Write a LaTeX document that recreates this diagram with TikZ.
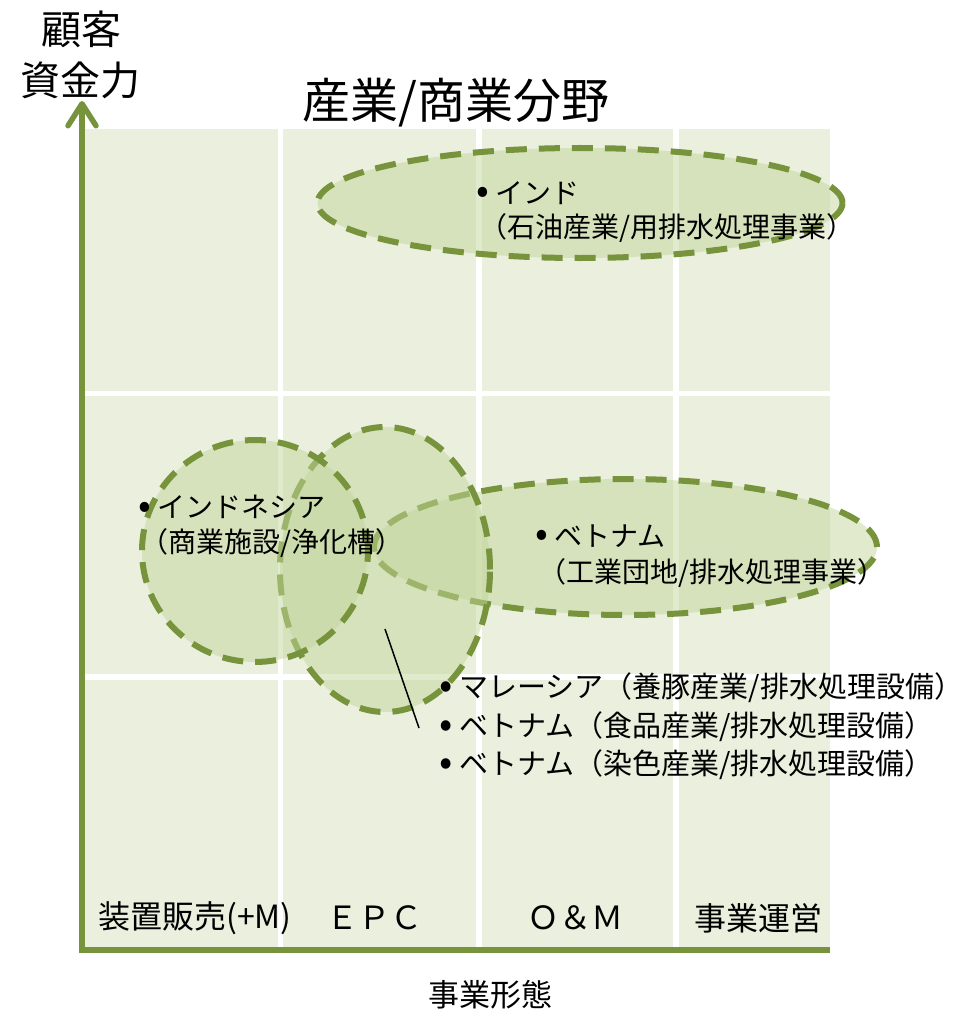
\documentclass[tikz,border=0pt]{standalone}
\usepackage{fontspec}
\setmainfont{Noto Sans CJK JP}
\usetikzlibrary{arrows.meta,shapes.geometric}
\definecolor{axisgreen}{RGB}{119,147,60}
\definecolor{gridbg}{RGB}{234,239,222}
\definecolor{ellfill}{RGB}{195,214,155}
\newcommand\bul{\makebox[0.9em][c]{\raisebox{-0.02em}{\scalebox{1.35}{•}}}}
\begin{document}
\begin{tikzpicture}[x=1pt,y=-1pt,
  txt/.style={inner sep=0pt, text=black},
  body/.style={txt, font=\fontsize{28}{30}\selectfont},
  listtxt/.style={txt, font=\fontsize{29}{31}\selectfont},
  axlbl/.style={txt, font=\fontsize{40}{44}\selectfont},
  collbl/.style={txt, font=\fontsize{32}{34}\selectfont},
  gridline/.style={white, line width=5.5pt},
  axisline/.style={axisgreen, line width=5.5pt, line join=miter},
  region/.style={ellipse, draw=axisgreen, line width=6pt, dash pattern=on 21pt off 12pt,
     fill=ellfill, fill opacity=0.5, draw opacity=1, inner sep=0pt},
  pointer/.style={black, line width=1.5pt}
]
\useasboundingbox (0,0) rectangle (959,1011);
% grid background
\fill[gridbg] (85,129) rectangle (830,948);
\draw[gridline] (280.5,129) -- (280.5,948);
\draw[gridline] (479,129) -- (479,948);
\draw[gridline] (676,129) -- (676,948);
\draw[gridline] (85,393.5) -- (830,393.5);
\draw[gridline] (85,677) -- (830,677);
% axes
\coordinate (ytop) at (82,101);
\coordinate (origin) at (82,950);
\coordinate (xend) at (830,950);
\draw[axisline, {Straight Barb[length=22pt,width=28pt,round]}-] (ytop) -- (origin) -- (xend);
% regions
\node[region, minimum width=525pt, minimum height=110pt] (india) at (580,203) {};
\node[region, minimum width=503pt, minimum height=136pt] (vietnam) at (625.5,547) {};
\node[region, minimum width=210pt, minimum height=285pt] (epc) at (385,569.5) {};
\node[region, minimum width=226pt, minimum height=222pt] (indonesia) at (255,551) {};
% pointer line
\coordinate (pA) at (385,629);
\coordinate (pB) at (419,728);
\draw[pointer] (pA) -- (pB);
% axis labels
\node[axlbl] (kokyaku) at (81.5,29) {顧客};
\node[axlbl] (shikin) at (80,80) {資金力};
\node[txt, font=\fontsize{48}{50}\selectfont] (title) at (456,103) {産業/商業分野};
\node[txt, font=\fontsize{31}{33}\selectfont] (keitai) at (490,995) {事業形態};
% column labels
\node[collbl] (c1) at (195,918) {装置販売(+M)};
\node[collbl] (c2) at (374,918) {ＥＰＣ};
\node[collbl] (c3) at (575,918) {Ｏ＆Ｍ};
\node[collbl] (c4) at (758,918) {事業運営};
% region texts
\node[body, anchor=west] (t1a) at (470,193) {\bul インド};
\node[body] (t1b) at (667,228) {（石油産業/用排水処理事業）};
\node[body, anchor=west] (t2a) at (132,507) {\bul インドネシア};
\node[body] (t2b) at (272,543) {（商業施設/浄化槽）};
\node[body, anchor=west] (t3a) at (529,536) {\bul ベトナム};
\node[body] (t3b) at (712,573) {（工業団地/排水処理事業）};
\node[listtxt, anchor=west] (l1) at (433,688) {\bul マレーシア（養豚産業/排水処理設備）};
\node[listtxt, anchor=west] (l2) at (433,727) {\bul ベトナム（食品産業/排水処理設備）};
\node[listtxt, anchor=west] (l3) at (433,765) {\bul ベトナム（染色産業/排水処理設備）};
\end{tikzpicture}
\end{document}
